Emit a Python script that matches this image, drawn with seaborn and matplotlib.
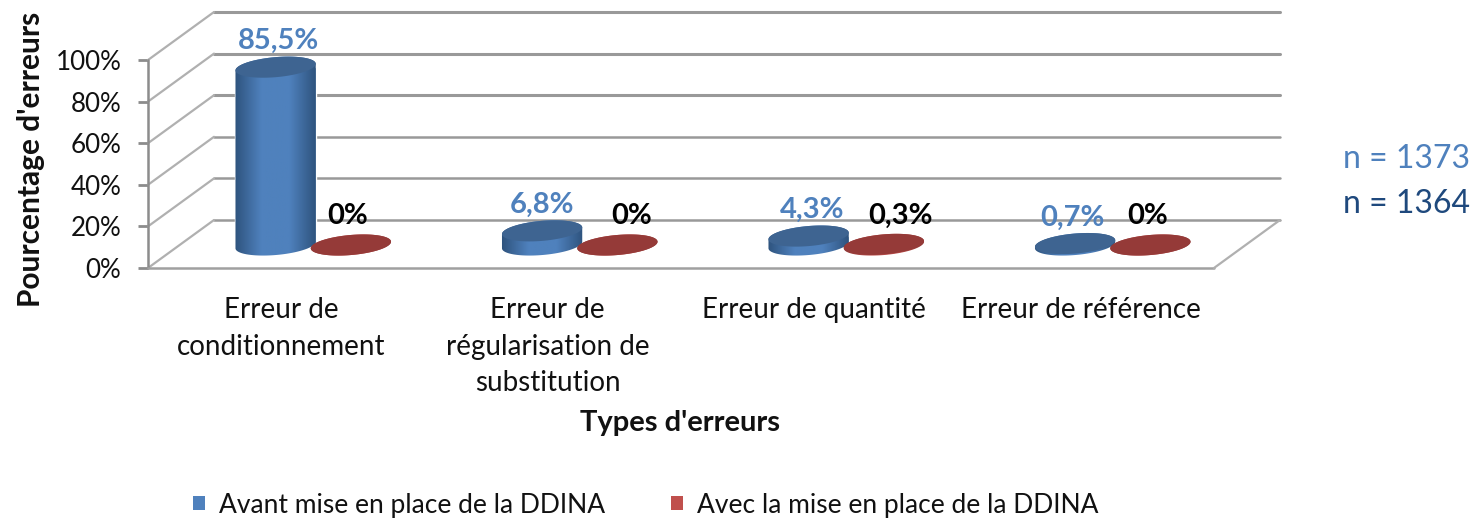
import numpy as np
import pandas as pd
import seaborn as sns
import matplotlib
matplotlib.use('Agg')
import matplotlib.pyplot as plt
from matplotlib.colors import LinearSegmentedColormap
from matplotlib.lines import Line2D
from matplotlib.patches import Patch, Polygon
from matplotlib.transforms import IdentityTransform

categories = ['Erreur de\nconditionnement', 'Erreur de\nrégularisation de\nsubstitution',
              'Erreur de quantité', 'Erreur de référence']
avant = [85.5, 6.8, 4.3, 0.7]
avec = [0, 0, 0.3, 0]
avant_labels = ['85,5%', '6,8%', '4,3%', '0,7%']
avec_labels = ['0%', '0%', '0,3%', '0%']
series_names = ['Avant mise en place de la DDINA', 'Avec la mise en place de la DDINA']
yticks = [0, 20, 40, 60, 80, 100]
ytick_labels = ['0%', '20%', '40%', '60%', '80%', '100%']

W, H = 1482, 519
BLUE, RED = '#4f81bd', '#c0504d'
DEPTH_X, DEPTH_Y = 66, 48   # fake 3d depth of the box, pixels
# data labels are not centred on their bars in the original, nudge in px
avant_nudge = [3, 0, 4, -3]
avec_nudge = [-3, 14, 17, -3]

sns.set_theme(style='white')
plt.rcParams['font.family'] = ['Lato', 'DejaVu Sans']

df = pd.DataFrame({
    'cat': categories * 2,
    'val': avant + avec,
    'serie': [series_names[0]] * 4 + [series_names[1]] * 4,
})


def px_axes(fig, left, right, top, bottom):
    return fig.add_axes([left / W, 1 - bottom / H, (right - left) / W, (bottom - top) / H])


def ellipse_pts(cx, cy, a, b, t, tilt=np.radians(5)):
    xs = a * np.cos(t)
    ys = b * np.sin(t)
    return np.c_[cx + xs * np.cos(tilt) - ys * np.sin(tilt),
                 cy + xs * np.sin(tilt) + ys * np.cos(tilt)]


fig = plt.figure(figsize=(W / 100, H / 100), dpi=100)

# front plane: ticks, labels, box lines
ax0 = px_axes(fig, 148, 1214, 60, 268)
ax0.set_xlim(-0.5, 3.5)
ax0.set_ylim(0, 100)
for s in ['top', 'right', 'bottom', 'left']:
    ax0.spines[s].set_visible(False)
ax0.set_yticks(yticks)
ax0.set_yticklabels(ytick_labels, fontsize=18.7, color='#111111')
ax0.set_xticks(range(4))
ax0.set_xticklabels(categories, fontsize=20, color='#111111', linespacing=1.5)
ax0.tick_params(axis='y', length=7.2, width=2, color='#8c8c8c', pad=12, left=True)
ax0.tick_params(axis='x', length=0, pad=21)
ax0.set_ylabel("Pourcentage d'erreurs", fontsize=21.5, fontweight='bold', color='#111111', va='center')
ax0.yaxis.set_label_coords((31 - 148) / 1066, 0.52)
ax0.set_xlabel("Types d'erreurs", fontsize=21, fontweight='bold', color='#111111', va='center')
ax0.xaxis.set_label_coords((680 - 148) / 1066, (268 - 423) / 208)

idt = IdentityTransform()
for t in yticks:
    x0, y0 = ax0.transData.transform((-0.5, t))
    x1 = ax0.transData.transform((3.5, t))[0]
    lw = 2.2 if t in (60, 80, 100) else 1.8
    ax0.add_line(Line2D([x0 + DEPTH_X, x1 + DEPTH_X], [y0 + DEPTH_Y, y0 + DEPTH_Y], transform=idt,
                        color='#999999', lw=lw, clip_on=False))
    ax0.add_line(Line2D([x0, x0 + DEPTH_X], [y0, y0 + DEPTH_Y], transform=idt,
                        color='#b0b0b0', lw=1.6, clip_on=False))
x0, y0 = ax0.transData.transform((-0.5, 0))
x1, y1 = ax0.transData.transform((3.5, 100))
ax0.add_line(Line2D([x0, x0], [y0, y1], transform=idt, color='#8c8c8c', lw=1.8, clip_on=False))
ax0.add_line(Line2D([x0, x1], [y0, y0], transform=idt, color='#a0a0a0', lw=1.8, clip_on=False))
ax0.add_line(Line2D([x1, x1 + DEPTH_X], [y0, y0 + DEPTH_Y], transform=idt, color='#b0b0b0', lw=1.6, clip_on=False))

# bars sit half way in the depth of the box
ax = px_axes(fig, 148 + 32, 1214 + 32, 60 - 23, 268 - 23)
ax.patch.set_alpha(0)
sns.barplot(data=df, x='cat', y='val', hue='serie', hue_order=series_names,
            palette=[BLUE, RED], width=0.565, gap=-0.07, legend=False, ax=ax)
ax.set_xlim(-0.5, 3.5)
ax.set_ylim(0, 100)
ax.axis('off')

styles = [('#2c5079', '#4f81bd', '#3e6491', BLUE, avant_labels, avant_nudge, 26),
          ('#8a3735', '#c0504d', '#953a38', 'black', avec_labels, avec_nudge, 29)]
t_lo = np.linspace(np.pi, 2 * np.pi, 60)
t_hi = np.linspace(0, np.pi, 60)
z = 3
for cont, (dark, mid, top_col, txt_col, labels, nudge, dy) in zip(ax.containers, styles):
    cmap = LinearSegmentedColormap.from_list('cyl', [dark, mid, mid, dark], N=128)
    for bar, lab, dx in zip(cont, labels, nudge):
        xc = bar.get_x() + bar.get_width() / 2
        val = bar.get_height()
        cx0, cy0 = ax.transData.transform((xc, 0))
        cx1, cy1 = ax.transData.transform((xc, val))
        a = (ax.transData.transform((xc + bar.get_width() / 2, 0))[0] - cx0)
        b = 10
        body = np.r_[ellipse_pts(cx0, cy0, a, b, t_lo), ellipse_pts(cx1, cy1, a, b, t_hi)]
        # shaded side of the cylinder
        grad = np.linspace(0, 1, 128).reshape(1, -1)
        im = ax.imshow(grad, cmap=cmap, aspect='auto', zorder=z, transform=idt,
                       extent=[cx0 - a - 2, cx0 + a + 2, cy0 - 20, cy1 + 20])
        im.set_clip_box(fig.bbox)
        im.set_clip_path(Polygon(body, transform=idt))
        ax.add_patch(Polygon(ellipse_pts(cx1, cy1, a, b, np.linspace(0, 2 * np.pi, 120)),
                             transform=idt, fc=top_col, ec='none', zorder=z + 0.5, clip_on=False))
        ax.annotate(lab, (cx1, cy1), xycoords=idt, xytext=(dx * 0.72, dy * 0.72), textcoords='offset points',
                    ha='center', va='center', fontsize=21, fontweight='bold', color=txt_col, zorder=z + 1)
    z += 2
ax.set_xlim(-0.5, 3.5)
ax.set_ylim(0, 100)

fig.text(1470 / W, 1 - 159 / H, 'n = 1373', color=BLUE, fontsize=23, ha='right', va='center')
fig.text(1470 / W, 1 - 204 / H, 'n = 1364', color='#1f497d', fontsize=23, ha='right', va='center')

handles = [Patch(fc=BLUE, ec='none'), Patch(fc=RED, ec='none')]
fig.legend(handles, series_names, loc='center', bbox_to_anchor=(646 / W, 1 - 505 / H), ncol=2,
           frameon=False, fontsize=19, handlelength=0.45, handleheight=0.45, handletextpad=0.53,
           columnspacing=2.5, labelcolor='#111111')

fig.savefig('out.png', dpi=100)
